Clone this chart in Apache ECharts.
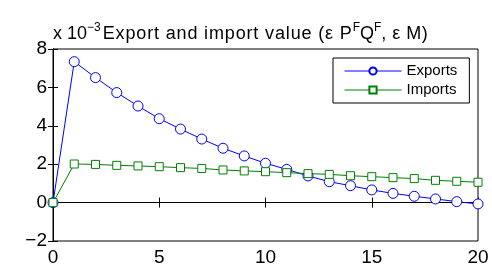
<!DOCTYPE html>
<html><head><meta charset="utf-8">
<script src="https://cdn.jsdelivr.net/npm/echarts@6/dist/echarts.min.js"></script>
<style>html,body{margin:0;padding:0;background:#fff}#c{width:492px;height:269px}</style>
</head><body><div id="c"></div>
<script>
const xValues = [0,1,2,3,4,5,6,7,8,9,10,11,12,13,14,15,16,17,18,19,20];
const exportsVals = [0,7.34,6.51,5.73,5.03,4.37,3.83,3.31,2.83,2.43,2.05,1.73,1.39,1.09,0.88,0.66,0.48,0.33,0.19,0.05,-0.07];
const importsVals = [0,2.01,1.99,1.94,1.91,1.87,1.82,1.78,1.70,1.65,1.61,1.56,1.51,1.47,1.40,1.35,1.30,1.25,1.16,1.11,1.06];
const seriesNames = ['Exports','Imports'];
// title pieces: [text, isSuperscript, letterSpacing]
const titlePieces = [['x 10',0,0],['−3',1,0],['Export and import value (ε P',0,0.85],['F',1,0],['Q',0,0],['F',1,0],[', ε M)',0,0.5]];
const F = 'Liberation Sans, Arial, sans-serif';
const chart = echarts.init(document.getElementById('c'));
const pair = a => a.map((v,i)=>[xValues[i], v]);

const ctx = document.createElement('canvas').getContext('2d');
const mainFont = '18px "Liberation Sans", Arial, sans-serif';
const supFont = '12px "Liberation Sans", Arial, sans-serif';
let tx = 53;
const titleEls = [];
titlePieces.forEach(([t,sup,sp],i) => {
  const font = sup ? supFont : mainFont;
  ctx.font = font;
  if (sp === 0) {
    titleEls.push({type:'text', x:tx, y: sup ? 27.3 : 33.8, silent:true,
      style:{text:t, font:font, fill:'#000', align:'left', verticalAlign:'middle'}});
    tx += ctx.measureText(t).width;
  } else {
    for (const ch of t) {
      titleEls.push({type:'text', x:tx, y:33.8, silent:true,
        style:{text:ch, font:font, fill:'#000', align:'left', verticalAlign:'middle'}});
      tx += ctx.measureText(ch).width + sp;
    }
  }
  if (i === 1) tx += 2;
});

const axisCommon = {
  axisLine:{show:true,lineStyle:{color:'#000',width:1}},
  axisTick:{show:true,inside:true,length:5,lineStyle:{color:'#000'}},
  splitLine:{show:false}
};
chart.setOption({
  animation:false,
  backgroundColor:'#fff',
  graphic:titleEls,
  grid:{left:53,right:14,top:49,bottom:28,show:true,borderColor:'#000',borderWidth:1,backgroundColor:'#fff'},
  legend:{
    left:333, top:58, orient:'vertical',
    itemWidth:57, itemHeight:9, itemGap:3,
    padding:[5,12,5,11],
    borderColor:'#000', borderWidth:1, backgroundColor:'#fff', borderRadius:0,
    lineStyle:{width:1},
    textStyle:{fontFamily:F,fontSize:15,color:'#000',lineHeight:16},
    data:seriesNames
  },
  xAxis:[
    Object.assign({type:'value',min:0,max:20,interval:5,position:'bottom',
      axisLabel:{fontFamily:F,fontSize:19,color:'#000',margin:7}},axisCommon),
    Object.assign({type:'value',min:0,max:20,interval:5,position:'top',axisLabel:{show:false}},axisCommon)
  ],
  yAxis:[
    Object.assign({type:'value',min:-2,max:8,interval:2,position:'left',
      axisLabel:{fontFamily:F,fontSize:19,color:'#000',margin:6,formatter:v=>String(v).replace('-','−')}},axisCommon),
    Object.assign({type:'value',min:-2,max:8,interval:2,position:'right',axisLabel:{show:false}},axisCommon)
  ],
  series:[
    {name:seriesNames[0],type:'line',data:pair(exportsVals),symbol:'circle',symbolSize:10,
     showAllSymbol:true,
     lineStyle:{color:'#0000ff',width:1},itemStyle:{color:'#fff',borderColor:'#0000ff',borderWidth:1},color:'#0000ff'},
    {name:seriesNames[1],type:'line',data:pair(importsVals),symbol:'rect',symbolSize:8,
     showAllSymbol:true,
     lineStyle:{color:'#008000',width:1},itemStyle:{color:'#fff',borderColor:'#008000',borderWidth:1},color:'#008000'}
  ]
});
</script></body></html>
